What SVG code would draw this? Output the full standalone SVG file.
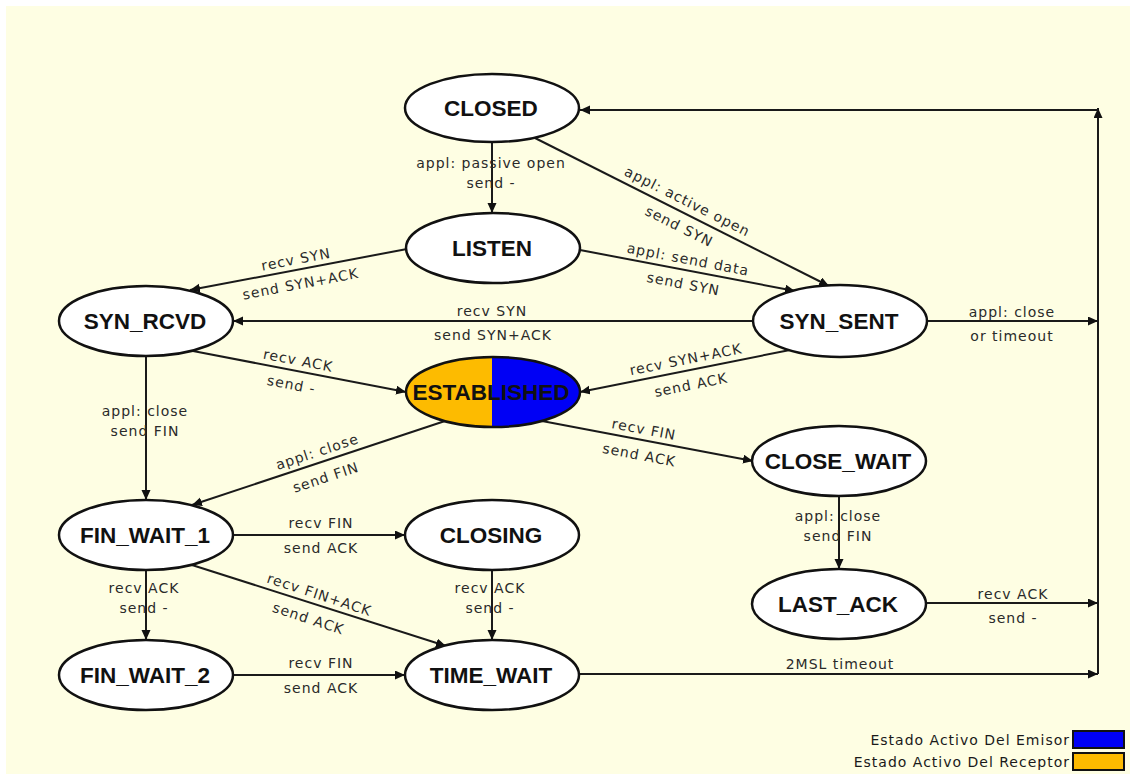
<svg xmlns="http://www.w3.org/2000/svg" width="1130" height="774" viewBox="0 0 1130 774">
  <style>
    .node ellipse { fill: #ffffff; stroke: #111111; stroke-width: 2.5; }
    .name { font-family: "Liberation Sans", Arial, sans-serif; font-weight: bold; font-size: 22.5px; fill: #111111; text-anchor: middle; }
    .edge { fill: none; stroke: #1a1a1a; stroke-width: 2; }
    .arr { marker-end: url(#head); }
    .lbl { font-family: "DejaVu Sans", Verdana, sans-serif; font-size: 14px; letter-spacing: 1px; fill: #2a2a2a; text-anchor: middle; }
    .legend { font-family: "DejaVu Sans", Verdana, sans-serif; font-size: 14px; letter-spacing: 1px; fill: #1a1a1a; text-anchor: end; }
    .key { stroke: #111111; stroke-width: 2; }
  </style>
  <defs>
    <marker id="head" markerUnits="userSpaceOnUse" markerWidth="11" markerHeight="10" refX="10" refY="4.5" orient="auto">
      <path d="M0,0 L10,4.5 L0,9 Z" fill="#111111"/>
    </marker>
    <clipPath id="leftHalf">
      <rect x="400" y="350" width="92" height="90"/>
    </clipPath>
  </defs>

  <!-- page background -->
  <rect x="0" y="0" width="1130" height="774" fill="#ffffff"/>
  <rect x="6" y="6" width="1124" height="768" fill="#fefee3"/>

  <!-- transitions -->
  <g id="connectors">
    <!-- CLOSED -> LISTEN -->
    <line class="edge arr" x1="492" y1="142" x2="492" y2="213"/>
    <text class="lbl" x="491" y="168">appl: passive open</text>
    <text class="lbl" x="491" y="188">send -</text>

    <!-- CLOSED -> SYN_SENT -->
    <line class="edge arr" x1="535" y1="138" x2="829" y2="286"/>
    <g transform="translate(682,212) rotate(26.7)">
      <text class="lbl" y="-7">appl: active open</text>
      <text class="lbl" x="4" y="19">send SYN</text>
    </g>

    <!-- LISTEN -> SYN_SENT -->
    <line class="edge arr" x1="580" y1="250" x2="795" y2="291"/>
    <g transform="translate(686,270) rotate(10.8)">
      <text class="lbl" y="-6">appl: send data</text>
      <text class="lbl" y="19">send SYN</text>
    </g>

    <!-- LISTEN -> SYN_RCVD -->
    <line class="edge arr" x1="407" y1="249" x2="190" y2="290"/>
    <g transform="translate(298,270) rotate(-10.7)">
      <text class="lbl" y="-6">recv SYN</text>
      <text class="lbl" y="19">send SYN+ACK</text>
    </g>

    <!-- SYN_SENT -> SYN_RCVD -->
    <line class="edge arr" x1="753" y1="321" x2="233" y2="321"/>
    <text class="lbl" x="492" y="316">recv SYN</text>
    <text class="lbl" x="493" y="340">send SYN+ACK</text>

    <!-- SYN_RCVD -> ESTABLISHED -->
    <line class="edge arr" x1="193" y1="351" x2="406" y2="392"/>
    <g transform="translate(296,371) rotate(10.9)">
      <text class="lbl" y="-6">recv ACK</text>
      <text class="lbl" x="-2" y="19">send -</text>
    </g>

    <!-- SYN_SENT -> ESTABLISHED -->
    <line class="edge arr" x1="790" y1="350" x2="580" y2="392"/>
    <g transform="translate(688,370) rotate(-11.3)">
      <text class="lbl" y="-6">recv SYN+ACK</text>
      <text class="lbl" y="20">send ACK</text>
    </g>

    <!-- ESTABLISHED -> CLOSE_WAIT -->
    <line class="edge arr" x1="542" y1="421" x2="753" y2="461"/>
    <g transform="translate(642,440) rotate(10.7)">
      <text class="lbl" y="-6">recv FIN</text>
      <text class="lbl" y="20">send ACK</text>
    </g>

    <!-- ESTABLISHED -> FIN_WAIT_1 -->
    <line class="edge arr" x1="445" y1="421" x2="192" y2="505"/>
    <g transform="translate(321,463) rotate(-18.4)">
      <text class="lbl" y="-7">appl: close</text>
      <text class="lbl" y="20">send FIN</text>
    </g>

    <!-- SYN_RCVD -> FIN_WAIT_1 -->
    <line class="edge arr" x1="146" y1="356" x2="146" y2="500"/>
    <text class="lbl" x="145" y="416">appl: close</text>
    <text class="lbl" x="145" y="436">send FIN</text>

    <!-- FIN_WAIT_1 -> CLOSING -->
    <line class="edge arr" x1="233" y1="535" x2="405" y2="535"/>
    <text class="lbl" x="321" y="528">recv FIN</text>
    <text class="lbl" x="321" y="553">send ACK</text>

    <!-- FIN_WAIT_1 -> FIN_WAIT_2 -->
    <line class="edge arr" x1="146" y1="570" x2="146" y2="640"/>
    <text class="lbl" x="144" y="593">recv ACK</text>
    <text class="lbl" x="144" y="613">send -</text>

    <!-- FIN_WAIT_1 -> TIME_WAIT -->
    <line class="edge arr" x1="192" y1="565" x2="446" y2="646"/>
    <g transform="translate(316,605) rotate(18.1)">
      <text class="lbl" y="-6">recv FIN+ACK</text>
      <text class="lbl" x="-3" y="20">send ACK</text>
    </g>

    <!-- CLOSING -> TIME_WAIT -->
    <line class="edge arr" x1="492" y1="570" x2="492" y2="640"/>
    <text class="lbl" x="490" y="593">recv ACK</text>
    <text class="lbl" x="490" y="613">send -</text>

    <!-- FIN_WAIT_2 -> TIME_WAIT -->
    <line class="edge arr" x1="233" y1="675" x2="405" y2="675"/>
    <text class="lbl" x="321" y="668">recv FIN</text>
    <text class="lbl" x="321" y="693">send ACK</text>

    <!-- CLOSE_WAIT -> LAST_ACK -->
    <line class="edge arr" x1="839" y1="496" x2="839" y2="569"/>
    <text class="lbl" x="838" y="521">appl: close</text>
    <text class="lbl" x="838" y="541">send FIN</text>

    <!-- SYN_SENT -> CLOSED (via return bus) -->
    <line class="edge arr" x1="927" y1="321" x2="1098" y2="321"/>
    <text class="lbl" x="1012" y="317">appl: close</text>
    <text class="lbl" x="1012" y="341">or timeout</text>

    <!-- LAST_ACK -> CLOSED (via return bus) -->
    <line class="edge arr" x1="926" y1="603" x2="1098" y2="603"/>
    <text class="lbl" x="1013" y="599">recv ACK</text>
    <text class="lbl" x="1013" y="623">send -</text>

    <!-- TIME_WAIT -> CLOSED (via return bus) -->
    <line class="edge arr" x1="579" y1="674" x2="1098" y2="674"/>
    <text class="lbl" x="840" y="669">2MSL timeout</text>

    <!-- return bus -->
    <line class="edge arr" x1="1098" y1="674" x2="1098" y2="108"/>
    <line class="edge arr" x1="1098" y1="110" x2="580" y2="110"/>
  </g>

  <!-- states -->
  <g id="closed" class="node">
    <ellipse cx="492" cy="108" rx="87" ry="34"/>
    <text class="name" x="491" y="116">CLOSED</text>
  </g>
  <g id="listen" class="node">
    <ellipse cx="493" cy="248" rx="87" ry="35"/>
    <text class="name" x="492" y="256">LISTEN</text>
  </g>
  <g id="syn_rcvd" class="node">
    <ellipse cx="146" cy="321" rx="87" ry="35"/>
    <text class="name" x="145" y="329">SYN_RCVD</text>
  </g>
  <g id="syn_sent" class="node">
    <ellipse cx="840" cy="321" rx="87" ry="36"/>
    <text class="name" x="839" y="329">SYN_SENT</text>
  </g>
  <g id="established">
    <ellipse cx="493" cy="392" rx="87" ry="35" fill="#0000f5"/>
    <ellipse cx="493" cy="392" rx="87" ry="35" fill="#fdbb00" clip-path="url(#leftHalf)"/>
    <ellipse cx="493" cy="392" rx="87" ry="35" fill="none" stroke="#111111" stroke-width="2.5"/>
    <text class="name" x="491" y="400">ESTABLISHED</text>
  </g>
  <g id="close_wait" class="node">
    <ellipse cx="839" cy="461" rx="87" ry="35"/>
    <text class="name" x="838" y="469">CLOSE_WAIT</text>
  </g>
  <g id="fin_wait_1" class="node">
    <ellipse cx="146" cy="535" rx="87" ry="35"/>
    <text class="name" x="145" y="543">FIN_WAIT_1</text>
  </g>
  <g id="closing" class="node">
    <ellipse cx="492" cy="535" rx="87" ry="35"/>
    <text class="name" x="491" y="543">CLOSING</text>
  </g>
  <g id="last_ack" class="node">
    <ellipse cx="839" cy="604" rx="87" ry="35"/>
    <text class="name" x="838" y="612">LAST_ACK</text>
  </g>
  <g id="fin_wait_2" class="node">
    <ellipse cx="146" cy="675" rx="87" ry="35"/>
    <text class="name" x="145" y="683">FIN_WAIT_2</text>
  </g>
  <g id="time_wait" class="node">
    <ellipse cx="492" cy="675" rx="87" ry="35"/>
    <text class="name" x="491" y="683">TIME_WAIT</text>
  </g>

  <!-- legend -->
  <g id="legend">
    <text class="legend" x="1070" y="745">Estado Activo Del Emisor</text>
    <rect class="key" x="1073" y="731" width="51" height="17" fill="#0000f5"/>
    <text class="legend" x="1070" y="767">Estado Activo Del Receptor</text>
    <rect class="key" x="1073" y="753" width="51" height="17" fill="#fdbb00"/>
  </g>
</svg>
